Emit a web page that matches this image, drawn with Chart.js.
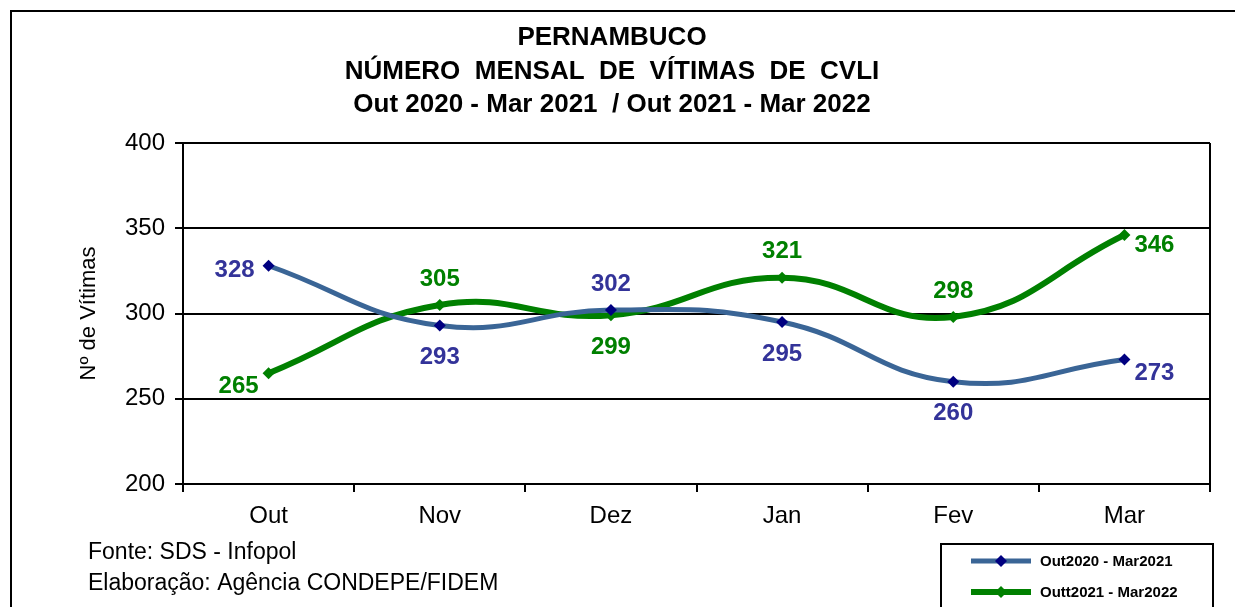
<!DOCTYPE html>
<html>
<head>
<meta charset="utf-8">
<script src="https://cdn.jsdelivr.net/npm/chart.js@4"></script>
<style>
  html, body { margin: 0; padding: 0; background: #fff; }
  #wrap { width: 1235px; height: 607px; }
</style>
</head>
<body>
<div id="wrap"><canvas id="chart" width="1235" height="607"></canvas></div>
<script>
const months = ['Out', 'Nov', 'Dez', 'Jan', 'Fev', 'Mar']
const serie2021 = [328, 293, 302, 295, 260, 273]
const serie2022 = [265, 305, 299, 321, 298, 346]
const seriesNames = ['Out2020 - Mar2021', 'Outt2021 - Mar2022']
const yTicks = [200, 250, 300, 350, 400]
const titleLines = ['PERNAMBUCO', 'NÚMERO  MENSAL  DE  VÍTIMAS  DE  CVLI', 'Out 2020 - Mar 2021  / Out 2021 - Mar 2022']
const notes = ['Fonte: SDS - Infopol', 'Elaboração: Agência CONDEPE/FIDEM']

// where each value label sits around its point
const labelPos = [
  ['left', 'below', 'above', 'below', 'below', 'rightBelow'],
  ['belowLeft', 'above', 'below', 'above', 'above', 'right']
]
const labelColors = ['#333399', '#008000']

const FONT = '"Liberation Sans", Arial, sans-serif'

const valueLabels = {
  id: 'valueLabels',
  afterDatasetsDraw(chart) {
    const ctx = chart.ctx
    ctx.save()
    ctx.font = 'bold 24px ' + FONT
    ctx.textBaseline = 'middle'
    chart.data.datasets.forEach((ds, i) => {
      chart.getDatasetMeta(i).data.forEach((pt, j) => {
        const pos = labelPos[i][j]
        let x = pt.x, y = pt.y, align = 'center'
        if (pos === 'above') y -= 26
        if (pos === 'below') y += 32
        if (pos === 'left') { x -= 14; y += 5; align = 'right' }
        if (pos === 'right') { x += 10; y += 10; align = 'left' }
        if (pos === 'rightBelow') { x += 10; y += 14; align = 'left' }
        if (pos === 'belowLeft') { x -= 30; y += 13 }
        ctx.fillStyle = labelColors[i]
        ctx.textAlign = align
        ctx.fillText(ds.data[j], x, y)
      })
    })
    ctx.restore()
  }
}

const decorations = {
  id: 'decorations',
  beforeDraw(chart) {
    const ctx = chart.ctx
    ctx.save()
    ctx.strokeStyle = '#000'
    ctx.lineWidth = 2
    ctx.strokeRect(11, 11, 1300, 700)
    ctx.restore()
  },
  afterDraw(chart) {
    const ctx = chart.ctx
    const a = chart.chartArea
    ctx.save()
    ctx.strokeStyle = '#000'
    ctx.lineWidth = 2
    ctx.beginPath()
    ctx.moveTo(a.right, a.top)
    ctx.lineTo(a.right, a.bottom)
    ctx.stroke()

    // title
    ctx.fillStyle = '#000'
    ctx.textAlign = 'center'
    ctx.textBaseline = 'middle'
    ctx.font = 'bold 26px ' + FONT
    titleLines.forEach((t, i) => ctx.fillText(t, 612, 38 + i * 33.5))

    // source notes
    ctx.textAlign = 'left'
    ctx.font = '23px ' + FONT
    notes.forEach((t, i) => ctx.fillText(t, 88, 553 + i * 31))

    // legend box
    ctx.strokeRect(941, 544, 272, 80)
    ctx.font = 'bold 15px ' + FONT
    chart.data.datasets.forEach((ds, i) => {
      const y = 561 + i * 31
      ctx.strokeStyle = ds.borderColor
      ctx.lineWidth = ds.borderWidth
      ctx.beginPath()
      ctx.moveTo(971, y)
      ctx.lineTo(1031, y)
      ctx.stroke()
      ctx.fillStyle = ds.pointBackgroundColor
      ctx.beginPath()
      ctx.moveTo(1001, y - 6)
      ctx.lineTo(1007, y)
      ctx.lineTo(1001, y + 6)
      ctx.lineTo(995, y)
      ctx.closePath()
      ctx.fill()
      ctx.fillStyle = '#000'
      ctx.fillText(ds.label, 1040, y + 1)
    })
    ctx.restore()
  }
}

new Chart(document.getElementById('chart'), {
  type: 'line',
  data: {
    labels: months,
    datasets: [{
      label: seriesNames[0],
      data: serie2021,
      borderColor: '#3A6596',
      borderWidth: 5,
      pointStyle: 'rectRot',
      pointRadius: 6,
      pointBackgroundColor: '#000080',
      pointBorderColor: '#000080',
      pointBorderWidth: 0,
      tension: 0.45
    }, {
      label: seriesNames[1],
      data: serie2022,
      borderColor: '#008000',
      borderWidth: 6,
      pointStyle: 'rectRot',
      pointRadius: 6,
      pointBackgroundColor: '#008000',
      pointBorderColor: '#008000',
      pointBorderWidth: 0,
      tension: 0.45
    }]
  },
  options: {
    responsive: false,
    animation: false,
    layout: { padding: { left: 76, right: 25, top: 143, bottom: 83 } },
    plugins: {
      legend: { display: false },
      title: { display: false },
      tooltip: { enabled: false }
    },
    scales: {
      x: {
        offset: true,
        grid: { display: true, offset: true, drawOnChartArea: false, color: '#000', lineWidth: 2, tickLength: 8 },
        border: { color: '#000', width: 2 },
        ticks: { color: '#000', font: { family: FONT, size: 24 }, padding: 10 },
        afterFit(s) { s.height = 40 }
      },
      y: {
        min: 200,
        max: 400,
        afterBuildTicks(s) { s.ticks = yTicks.map(v => ({ value: v })) },
        grid: { color: '#000', lineWidth: 2, tickLength: 8 },
        border: { color: '#000', width: 2 },
        ticks: { color: '#000', font: { family: FONT, size: 24 }, padding: 10 },
        title: { display: true, text: 'Nº de Vítimas', color: '#000', font: { family: FONT, size: 22 }, padding: 0 },
        afterFit(s) { s.width = 107 }
      }
    }
  },
  plugins: [decorations, valueLabels]
})
</script>
</body>
</html>
